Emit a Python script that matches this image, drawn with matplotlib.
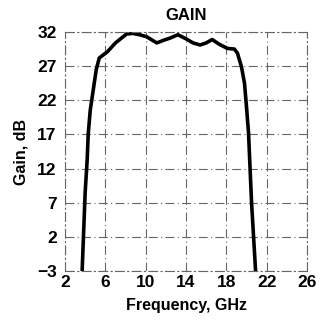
import matplotlib.pyplot as plt
import numpy as np

plt.rcParams['font.family'] = ['Liberation Sans', 'DejaVu Sans']

# frequency (GHz) and gain (dB)
freq = [3.7, 4.0, 4.2, 4.3, 4.5, 4.8, 5.1, 5.4, 6.2, 7.0, 8.1, 8.7, 9.4, 10.1,
        11.1, 11.8, 12.4, 13.2, 14.0, 14.7, 15.4, 16.0, 16.6, 17.3, 18.1,
        18.8, 19.1, 19.5, 19.8, 20.0, 20.2, 20.5, 20.9]
gain = [-3.0, 8.5, 13.3, 17.0, 20.5, 23.5, 26.5, 28.2, 29.1, 30.4, 31.7, 31.8,
        31.6, 31.3, 30.4, 30.8, 31.1, 31.6, 31.0, 30.4, 30.1, 30.4, 30.9,
        30.2, 29.6, 29.5, 28.9, 26.9, 24.5, 21.0, 17.2, 7.0, -3.0]

xticks = [2, 6, 10, 14, 18, 22, 26]
yticks = [-3, 2, 7, 12, 17, 22, 27, 32]
ytick_labels = ['\u22123', '2', '7', '12', '17', '22', '27', '32']

fig = plt.figure(figsize=(3.24, 3.21), dpi=100)
ax = fig.add_axes([0.2006, 0.1558, 0.747, 0.7445])

ax.plot(freq, gain, color='black', linewidth=2.6, solid_joinstyle='round')

ax.set_xlim(2, 26)
ax.set_ylim(-3, 32)
ax.set_xticks(xticks)
ax.set_yticks(yticks)
ax.set_yticklabels(ytick_labels)
ax.tick_params(length=0, labelsize=12.5)
ax.tick_params(axis='y', pad=6)
ax.tick_params(axis='x', pad=3)
for lab in ax.get_xticklabels() + ax.get_yticklabels():
    lab.set_fontweight('bold')

ax.grid(True, color='#666666', linestyle=(0, (8, 3, 1, 3)), linewidth=0.8)
for sp in ax.spines.values():
    sp.set_color('#666666')
    sp.set_linewidth(0.8)
    sp.set_linestyle((0, (8, 3, 1, 3)))

ax.set_title('GAIN', fontsize=12, fontweight='bold', pad=9)
ax.set_xlabel('Frequency, GHz', fontsize=11.5, fontweight='bold', labelpad=6)
ax.set_ylabel('Gain, dB', fontsize=11.5, fontweight='bold', labelpad=6)

fig.savefig('out.png', dpi=100)
